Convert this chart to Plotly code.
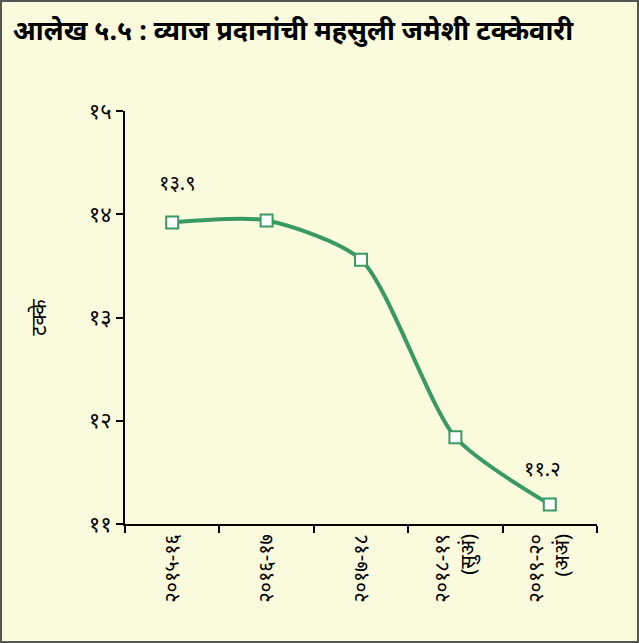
import plotly.graph_objects as go

# data
years = ["२०१५-१६", "२०१६-१७", "२०१७-१८", "२०१८-१९<br>(सुअं)", "२०१९-२०<br>(अअं)"]
share = [13.92, 13.94, 13.56, 11.84, 11.19]
y_ticks = [11, 12, 13, 14, 15]
y_tick_text = ["११", "१२", "१३", "१४", "१५"]
point_labels = {0: "१३.९", 4: "११.२"}

GREEN = "#3a9a64"
BG = "#fafadc"

fig = go.Figure()
fig.add_trace(go.Scatter(
    x=years,
    y=share,
    mode="lines+markers",
    line=dict(color=GREEN, width=4, shape="spline", smoothing=0.7),
    marker=dict(symbol="square", size=12, color="white",
                line=dict(color=GREEN, width=2)),
    showlegend=False,
))

# label offsets (px) for the two annotated points
label_shift = {0: (5, 40), 4: (-7, 36)}
for i, txt in point_labels.items():
    dx, dy = label_shift[i]
    fig.add_annotation(x=years[i], y=share[i], text=txt, showarrow=False,
                       yshift=dy, xshift=dx, font=dict(size=20, color="black"))

# outer frame of the figure
pw, ph = 639 - 125 - 42, 643 - 111 - 119
fig.add_shape(type="rect", xref="paper", yref="paper",
              x0=-124 / pw, x1=1 + 41 / pw, y0=-118 / ph, y1=1 + 110 / ph,
              line=dict(color="#555555", width=2), fillcolor="rgba(0,0,0,0)")

fig.update_layout(
    width=639, height=643,
    paper_bgcolor=BG, plot_bgcolor=BG,
    margin=dict(l=125, r=42, t=111, b=119),
    font=dict(family="Noto Sans, sans-serif", color="black"),
    title=dict(text="<b>आलेख ५.५ : व्याज प्रदानांची महसुली जमेशी टक्केवारी</b>",
               x=0.02, xanchor="left", y=0.953, yanchor="middle",
               font=dict(size=27, color="black")),
    xaxis=dict(
        type="category", tickson="boundaries", ticks="outside", ticklen=7,
        tickwidth=2, tickcolor="black", showline=True, linecolor="black",
        linewidth=2, showgrid=False, tickangle=-90, automargin=False,
        tickfont=dict(size=20), range=[-0.5, 4.5],
    ),
    yaxis=dict(
        range=[11, 15], tickvals=y_ticks, ticktext=y_tick_text,
        ticks="outside", ticklen=7, tickwidth=2, tickcolor="black",
        showline=True, linecolor="black", linewidth=2, showgrid=False,
        zeroline=False, tickfont=dict(size=22), automargin=False,
        title=dict(text="टक्के", font=dict(size=20), standoff=37),
    ),
)

# drop the browser's default body margin so the figure sits at the page corner
fig.write_html("out.html", config={"displayModeBar": False},
               post_script="document.body.style.margin='0';")
